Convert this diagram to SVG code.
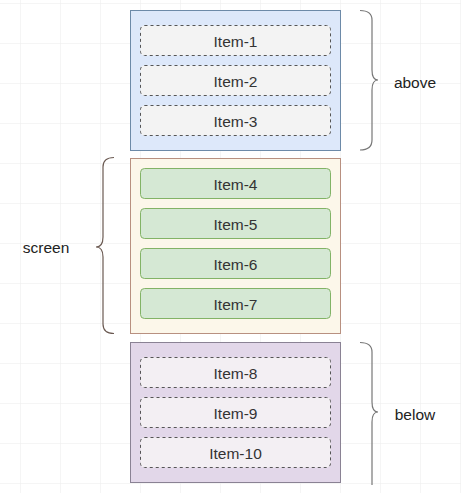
<svg xmlns="http://www.w3.org/2000/svg" width="461" height="493" viewBox="0 0 461 493">
<defs>
<pattern id="grid" x="20" y="3" width="40" height="40" patternUnits="userSpaceOnUse">
<path d="M0 0H40M0 0V40" fill="none" stroke="#ebebeb" stroke-width="1"/>
</pattern>
<style>
text{font-family:"Liberation Sans",Arial,sans-serif;font-size:15.5px;fill:#333;text-anchor:middle;dominant-baseline:central}
.lbl{fill:#222}
.dash{fill:#f3f3f3;stroke:#555;stroke-width:1;stroke-dasharray:3 3}
.grn{fill:#d5e8d4;stroke:#82b366;stroke-width:1}
.brace{fill:none;stroke:#777;stroke-width:1.2}
</style>
</defs>
<rect width="461" height="493" fill="#fff"/>
<rect width="461" height="493" fill="url(#grid)"/>
<g id="above">
<rect x="130.5" y="10.5" width="210" height="140" fill="#dde8fa" stroke="#6d8aa8"/>
</g>
<g id="item-1"><rect class="dash" x="140.5" y="25.5" width="190" height="30" rx="4"/><text x="235.5" y="41">Item-1</text></g>
<g id="item-2"><rect class="dash" x="140.5" y="65.5" width="190" height="30" rx="4"/><text x="235.5" y="81">Item-2</text></g>
<g id="item-3"><rect class="dash" x="140.5" y="105.5" width="190" height="30" rx="4"/><text x="235.5" y="121">Item-3</text></g>
<g id="screen">
<rect x="130.5" y="158.5" width="210" height="175" fill="#fcf7ea" stroke="#b89080"/>
</g>
<g id="item-4"><rect class="grn" x="140.5" y="168.5" width="190" height="30" rx="4"/><text x="235.5" y="184">Item-4</text></g>
<g id="item-5"><rect class="grn" x="140.5" y="208.5" width="190" height="30" rx="4"/><text x="235.5" y="224">Item-5</text></g>
<g id="item-6"><rect class="grn" x="140.5" y="248.5" width="190" height="30" rx="4"/><text x="235.5" y="264">Item-6</text></g>
<g id="item-7"><rect class="grn" x="140.5" y="288.5" width="190" height="30" rx="4"/><text x="235.5" y="304">Item-7</text></g>
<g id="below">
<rect x="130.5" y="342.5" width="210" height="140" fill="#e2d7e9" stroke="#8a8294"/>
</g>
<g id="item-8"><rect class="dash" x="140.5" y="357.5" width="190" height="30" rx="4" style="fill:#f3eff3"/><text x="235.5" y="373">Item-8</text></g>
<g id="item-9"><rect class="dash" x="140.5" y="397.5" width="190" height="30" rx="4" style="fill:#f3eff3"/><text x="235.5" y="413">Item-9</text></g>
<g id="item-10"><rect class="dash" x="140.5" y="437.5" width="190" height="30" rx="4" style="fill:#f3eff3"/><text x="235.5" y="453">Item-10</text></g>
<g id="connectors">
<path class="brace" d="M360 10.5Q372 10.5 372 20V70Q372 80 378 80Q372 80 372 90V140Q372 150 360 150"/>
<path class="brace" d="M114 157.5Q103 157.5 103 167V237Q103 247 96 247Q103 247 103 257V324Q103 333.5 114 333.5" style="stroke:#6b5a52"/>
<path class="brace" d="M360 342.5Q372 342.5 372 352V402Q372 412 378 412Q372 412 372 422V485"/>
</g>
<g id="label-above"><text class="lbl" x="415" y="82">above</text></g>
<g id="label-screen"><text class="lbl" x="46" y="247">screen</text></g>
<g id="label-below"><text class="lbl" x="415" y="414">below</text></g>
</svg>
